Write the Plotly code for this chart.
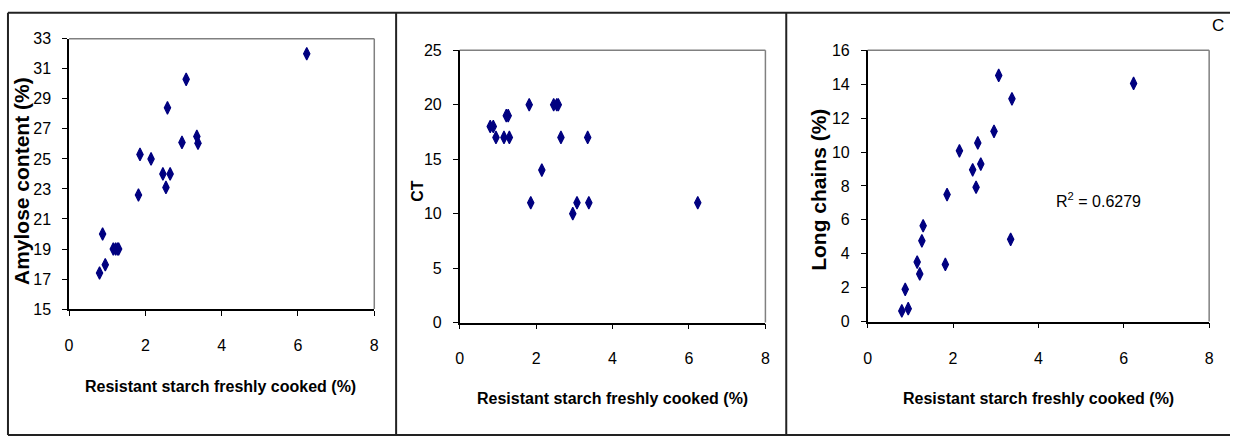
import plotly.graph_objects as go

W, H = 1235, 446

# Resistant starch of freshly cooked samples (%), shared by all three panels
rs_fresh = [0.80, 0.88, 0.95, 1.16, 1.22, 1.27, 1.30, 1.82, 1.86, 2.15,
            2.46, 2.54, 2.58, 2.65, 2.96, 3.07, 3.35, 3.38, 6.23]
amylose = [17.4, 20.0, 17.95, 19.0, 19.0, 19.0, 19.0, 22.6, 25.3, 25.0,
           24.0, 23.1, 28.4, 24.0, 26.1, 30.3, 26.5, 26.05, 32.0]
ct = [18, 18, 17, 17, 19, 19, 17, 20, 11, 14,
      20, 20, 20, 17, 10, 11, 17, 11, 11]
long_chains = [0.63, 1.90, 0.76, 3.51, 2.81, 4.76, 5.65, 3.37, 7.49, 10.07,
               8.95, 7.92, 10.54, 9.29, 11.22, 14.52, 4.85, 13.14, 14.05]
r2_label = "R<sup>2</sup> = 0.6279"
x_title = "Resistant starch freshly cooked (%)"
y_titles = ["Amylose content (%)", "CT", "Long chains (%)"]

NAVY = "#000080"
FONT = "Liberation Sans, Arial, sans-serif"


def px_x(p):
    return p / W


def px_y(p):
    return 1 - p / H


# plot-area boxes in pixels: (left, right, top, bottom)
boxes = [(65.5, 373, 32, 313), (459, 767, 44, 327), (870, 1214, 44, 326)]
yranges = [(15, 33, 2), (0, 25, 5), (0, 16, 2)]
series = [amylose, ct, long_chains]

fig = go.Figure()
for i, (box, (y0, y1, dy), yv) in enumerate(zip(boxes, yranges, series)):
    n = "" if i == 0 else str(i + 1)
    l, r, t, b = box
    fig.add_trace(go.Scatter(
        x=rs_fresh, y=yv, mode="markers", xaxis="x" + n, yaxis="y" + n,
        marker=dict(symbol="diamond-tall", size=9, color=NAVY,
                    line=dict(color=NAVY, width=1.2)),
        showlegend=False, hoverinfo="x+y"))
    axis_common = dict(showgrid=False, zeroline=False, showline=True,
                       linecolor="black", linewidth=1.5, ticks="outside",
                       ticklen=5, tickwidth=1.2, tickcolor="black",
                       tickfont=dict(family=FONT, size=16, color="black"))
    fig.update_layout(**{
        "xaxis" + n: dict(domain=[px_x(l), px_x(r)], range=[0, 8], dtick=2,
                          tick0=0, anchor="y" + n, ticklabelstandoff=16,
                          **axis_common),
        "yaxis" + n: dict(domain=[px_y(b), px_y(t)], range=[y0, y1], dtick=dy,
                          tick0=y0, anchor="x" + n, ticklabelstandoff=8,
                          **axis_common),
    })
    # grey top and right edges of the plot area
    fig.add_shape(type="line", xref="paper", yref="paper",
                  x0=px_x(l), x1=px_x(r), y0=px_y(t), y1=px_y(t),
                  line=dict(color="#808080", width=1.5))
    fig.add_shape(type="line", xref="paper", yref="paper",
                  x0=px_x(r), x1=px_x(r), y0=px_y(t), y1=px_y(b),
                  line=dict(color="#808080", width=1.5))

# outer frame and panel dividers
for x in (4, 395, 788):
    fig.add_shape(type="line", xref="paper", yref="paper",
                  x0=px_x(x), x1=px_x(x), y0=px_y(5), y1=px_y(444),
                  line=dict(color="#222222", width=2))
for y in (5, 444):
    fig.add_shape(type="line", xref="paper", yref="paper",
                  x0=px_x(4), x1=1, y0=px_y(y), y1=px_y(y),
                  line=dict(color="#222222", width=2))


def label(cx, cy, text, size, angle=0):
    return dict(x=px_x(cx), y=px_y(cy), xref="paper", yref="paper",
                xanchor="center", yanchor="middle", text=text,
                showarrow=False, textangle=angle,
                font=dict(family=FONT, size=size, color="black"))


annots = []
# x-axis titles
for cx, cy in ((218, 393), (613, 406), (1042, 406)):
    annots.append(label(cx, cy, "<b>" + x_title + "</b>", 16))
# y-axis titles (rotated)
for (cx, cy), txt, sz in zip(((17, 180), (417, 190), (821, 189)), y_titles,
                             (21, 16, 21)):
    annots.append(label(cx, cy, "<b>" + txt + "</b>", sz, -90))
# panel letter and R squared
annots.append(label(1223, 18, "C", 17))
annots.append(label(1103, 200, r2_label, 16))

fig.update_layout(width=W, height=H, margin=dict(l=0, r=0, t=0, b=0),
                  paper_bgcolor="white", plot_bgcolor="white",
                  annotations=annots)
fig.write_html("out.html")
